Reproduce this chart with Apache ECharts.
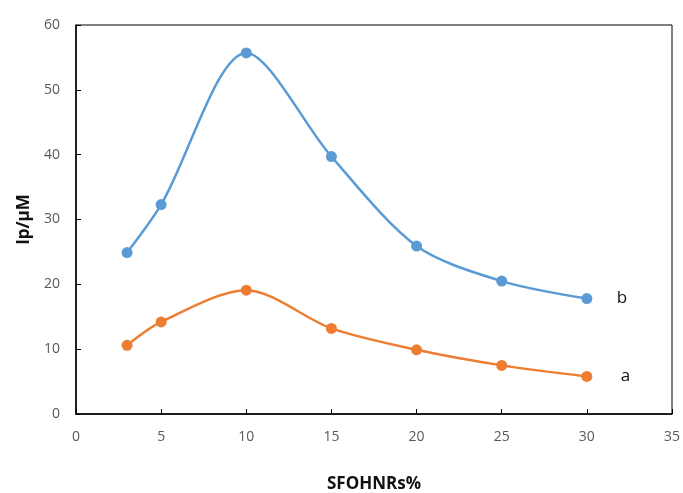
<!DOCTYPE html>
<html><head><meta charset="utf-8">
<script src="https://cdn.jsdelivr.net/npm/echarts@6/dist/echarts.min.js"></script>
<style>html,body{margin:0;padding:0;background:#fff}#c{width:683px;height:493px}</style>
</head><body><div id="c"></div>
<script>
const xValues = [3, 5, 10, 15, 20, 25, 30];
const seriesB = [24.9, 32.3, 55.7, 39.7, 25.9, 20.5, 17.8];
const seriesA = [10.6, 14.2, 19.1, 13.2, 9.9, 7.5, 5.8];
const seriesNames = ['b', 'a'];
const xTicks = [0, 5, 10, 15, 20, 25, 30, 35];
const yTicks = [0, 10, 20, 30, 40, 50, 60];

const chart = echarts.init(document.getElementById('c'));
const tickFont = {color: '#595959', fontSize: 14, fontFamily: 'Open Sans'};
function mk(name, vals, color, dist) {
  return {
    name: name, type: 'line', smooth: 0.3,
    data: xValues.map((x, i) => [x, vals[i]]),
    symbol: 'circle', symbolSize: 11,
    lineStyle: {color: color, width: 2.5},
    itemStyle: {color: color},
    endLabel: {show: true, formatter: name, color: '#111', fontSize: 17, fontFamily: 'Open Sans', distance: dist},
    animation: false
  };
}
chart.setOption({
  animation: false,
  grid: {left: 76, top: 25, right: 11, bottom: 79, show: true, borderColor: '#000', borderWidth: 1,
         containLabel: false, outerBoundsMode: 'none'},
  xAxis: {
    type: 'value', min: xTicks[0], max: xTicks[xTicks.length - 1], interval: 5,
    name: 'SFOHNRs%', nameLocation: 'middle', nameGap: 62,
    nameTextStyle: {fontWeight: 'bold', fontSize: 17, color: '#111', fontFamily: 'Open Sans'},
    axisLine: {lineStyle: {color: '#000', width: 1.5}},
    axisTick: {inside: true, length: 5, lineStyle: {color: '#000'}},
    axisLabel: Object.assign({margin: 16}, tickFont),
    splitLine: {show: false}
  },
  yAxis: {
    type: 'value', min: yTicks[0], max: yTicks[yTicks.length - 1], interval: 10,
    name: 'Ip/μM', nameLocation: 'middle', nameGap: 40,
    nameTextStyle: {fontWeight: 'bold', fontSize: 17, color: '#111', fontFamily: 'Open Sans'},
    axisLine: {show: true, lineStyle: {color: '#000', width: 1.5}},
    axisTick: {show: true, inside: true, length: 5, lineStyle: {color: '#000'}},
    axisLabel: Object.assign({margin: 16}, tickFont),
    splitLine: {show: false}
  },
  series: [mk(seriesNames[0], seriesB, '#5B9BD5', 30), mk(seriesNames[1], seriesA, '#ED7D31', 34)]
});
</script></body></html>
